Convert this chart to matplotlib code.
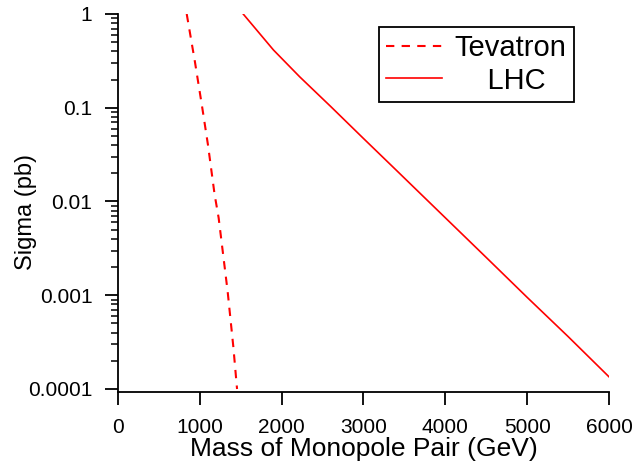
import matplotlib
matplotlib.use("Agg")
import matplotlib.pyplot as plt
from matplotlib.ticker import LogLocator, FixedLocator, FixedFormatter

# values
tev_mass = [840, 940, 1030, 1100, 1180, 1230, 1340, 1410, 1455]
tev_sigma = [1.0, 0.31, 0.1, 0.04, 0.012, 0.0067, 0.0011, 0.00028, 0.0001]

lhc_mass = [1530, 1900, 2220, 2600, 3000, 3400, 3800, 4500, 5000, 5500, 6000]
lhc_sigma = [1.0, 0.413, 0.214, 0.103, 0.047, 0.0216, 0.0099, 0.00253, 0.00095, 0.000363, 0.000135]

x_ticks = [0, 1000, 2000, 3000, 4000, 5000, 6000]
y_ticks = [0.0001, 0.001, 0.01, 0.1, 1]
y_tick_labels = ["0.0001", "0.001", "0.01", "0.1", "1"]


def main():
    plt.rcParams['font.family'] = ['Liberation Sans', 'DejaVu Sans']

    fig = plt.figure(figsize=(6.36, 4.66), dpi=100)
    ax = fig.add_axes([0.1855, 0.1588, 0.772, 0.8112])

    ax.plot(tev_mass, tev_sigma, color='red', lw=1.5, linestyle=(0, (4, 3.5)),
            label='Tevatron')
    ax.plot(lhc_mass, lhc_sigma, color='red', lw=1.2, label='    LHC')

    ax.set_yscale('log')
    ax.set_xlim(0, 6000)
    ax.set_ylim(10 ** (-4 - 3 / 93.75), 1)

    ax.xaxis.set_major_locator(FixedLocator(x_ticks))
    ax.yaxis.set_major_locator(FixedLocator(y_ticks))
    ax.yaxis.set_major_formatter(FixedFormatter(y_tick_labels))
    ax.yaxis.set_minor_locator(LogLocator(base=10, subs=range(2, 10)))
    ax.yaxis.set_minor_formatter(FixedFormatter([]))

    for side in ['top', 'right']:
        ax.spines[side].set_visible(False)
    for side in ['left', 'bottom']:
        ax.spines[side].set_linewidth(1.3)

    ax.tick_params(axis='both', which='major', direction='out', length=9.4,
                   width=1.3, labelsize=15, pad=9)
    ax.tick_params(axis='y', which='minor', direction='out', length=5, width=1.1)

    ax.set_xlabel('Mass of Monopole Pair (GeV)', fontsize=19, labelpad=0)
    ax.set_ylabel('Sigma (pb)', fontsize=17)
    ax.yaxis.set_label_coords(-0.165, 0.476)

    leg = ax.legend(loc='upper left', bbox_to_anchor=(0.5316, 0.9656),
                    fontsize=21, frameon=True, fancybox=False, framealpha=1,
                    handlelength=1.9, handletextpad=0.45, borderaxespad=0,
                    labelspacing=0.15, borderpad=0.25)
    leg.get_frame().set_edgecolor('black')
    leg.get_frame().set_linewidth(1.3)

    fig.savefig('out.png', dpi=100)


if __name__ == "__main__":
    main()
